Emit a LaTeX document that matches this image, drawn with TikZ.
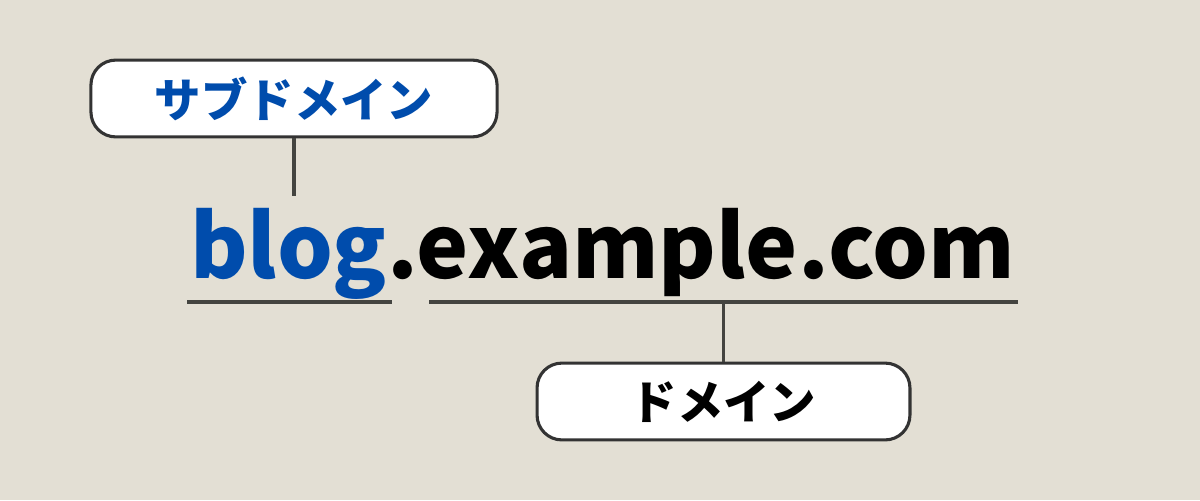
\documentclass[tikz,border=0pt]{standalone}
\usepackage{fontspec}
\setmainfont{Noto Sans CJK JP}
\usepackage{tikz}
\usetikzlibrary{positioning}

\definecolor{bgbeige}{HTML}{E3DFD4}
\definecolor{subblue}{HTML}{004CAC}
\definecolor{linegray}{HTML}{444440}
\definecolor{boxgray}{HTML}{333333}

\begin{document}
\begin{tikzpicture}[x=0.025cm, y=-0.025cm,
		labelbox/.style={draw=boxgray, line width=2.2pt, fill=white, rounded corners=0.62cm,
			minimum height=1.92cm, inner sep=0pt, font=\fontsize{33}{33}\selectfont\bfseries},
		urltext/.style={inner sep=0pt, outer sep=0pt, font=\fontsize{62.5}{62.5}\selectfont\bfseries},
		uline/.style={draw=linegray, line width=2.2pt}]
		{
			\def\ulh{302}
			\fill[bgbeige] (0,0) rectangle (1200,500);
			\useasboundingbox (0,0) rectangle (1200,500);

			\node[labelbox, minimum width=10.15cm, text=subblue] (sub) at (294,98.5) {サブドメイン};
			\node[labelbox, minimum width=9.32cm, text=black] (dom) at (723.5,401.5) {ドメイン};

			\node[urltext, anchor=base west, text=subblue] (blog) at (190,278) {blog};
			\node[urltext, anchor=base west, text=black] (rest) at (blog.base east) {.example.com};

			\coordinate (bl) at (187,\ulh);
			\coordinate (br) at (392,\ulh);
			\coordinate (dl) at (429,\ulh);
			\coordinate (dr) at (1018,\ulh);
			\coordinate (subend) at (294,196);

			\path[uline] (bl) -- (br);
			\path[uline] (dl) -- (dr);
			\path[uline] (sub.south) -- (subend);
			\path[uline] (dom.north |- dl) -- (dom.north);
		}
	\end{tikzpicture}
\end{document}
